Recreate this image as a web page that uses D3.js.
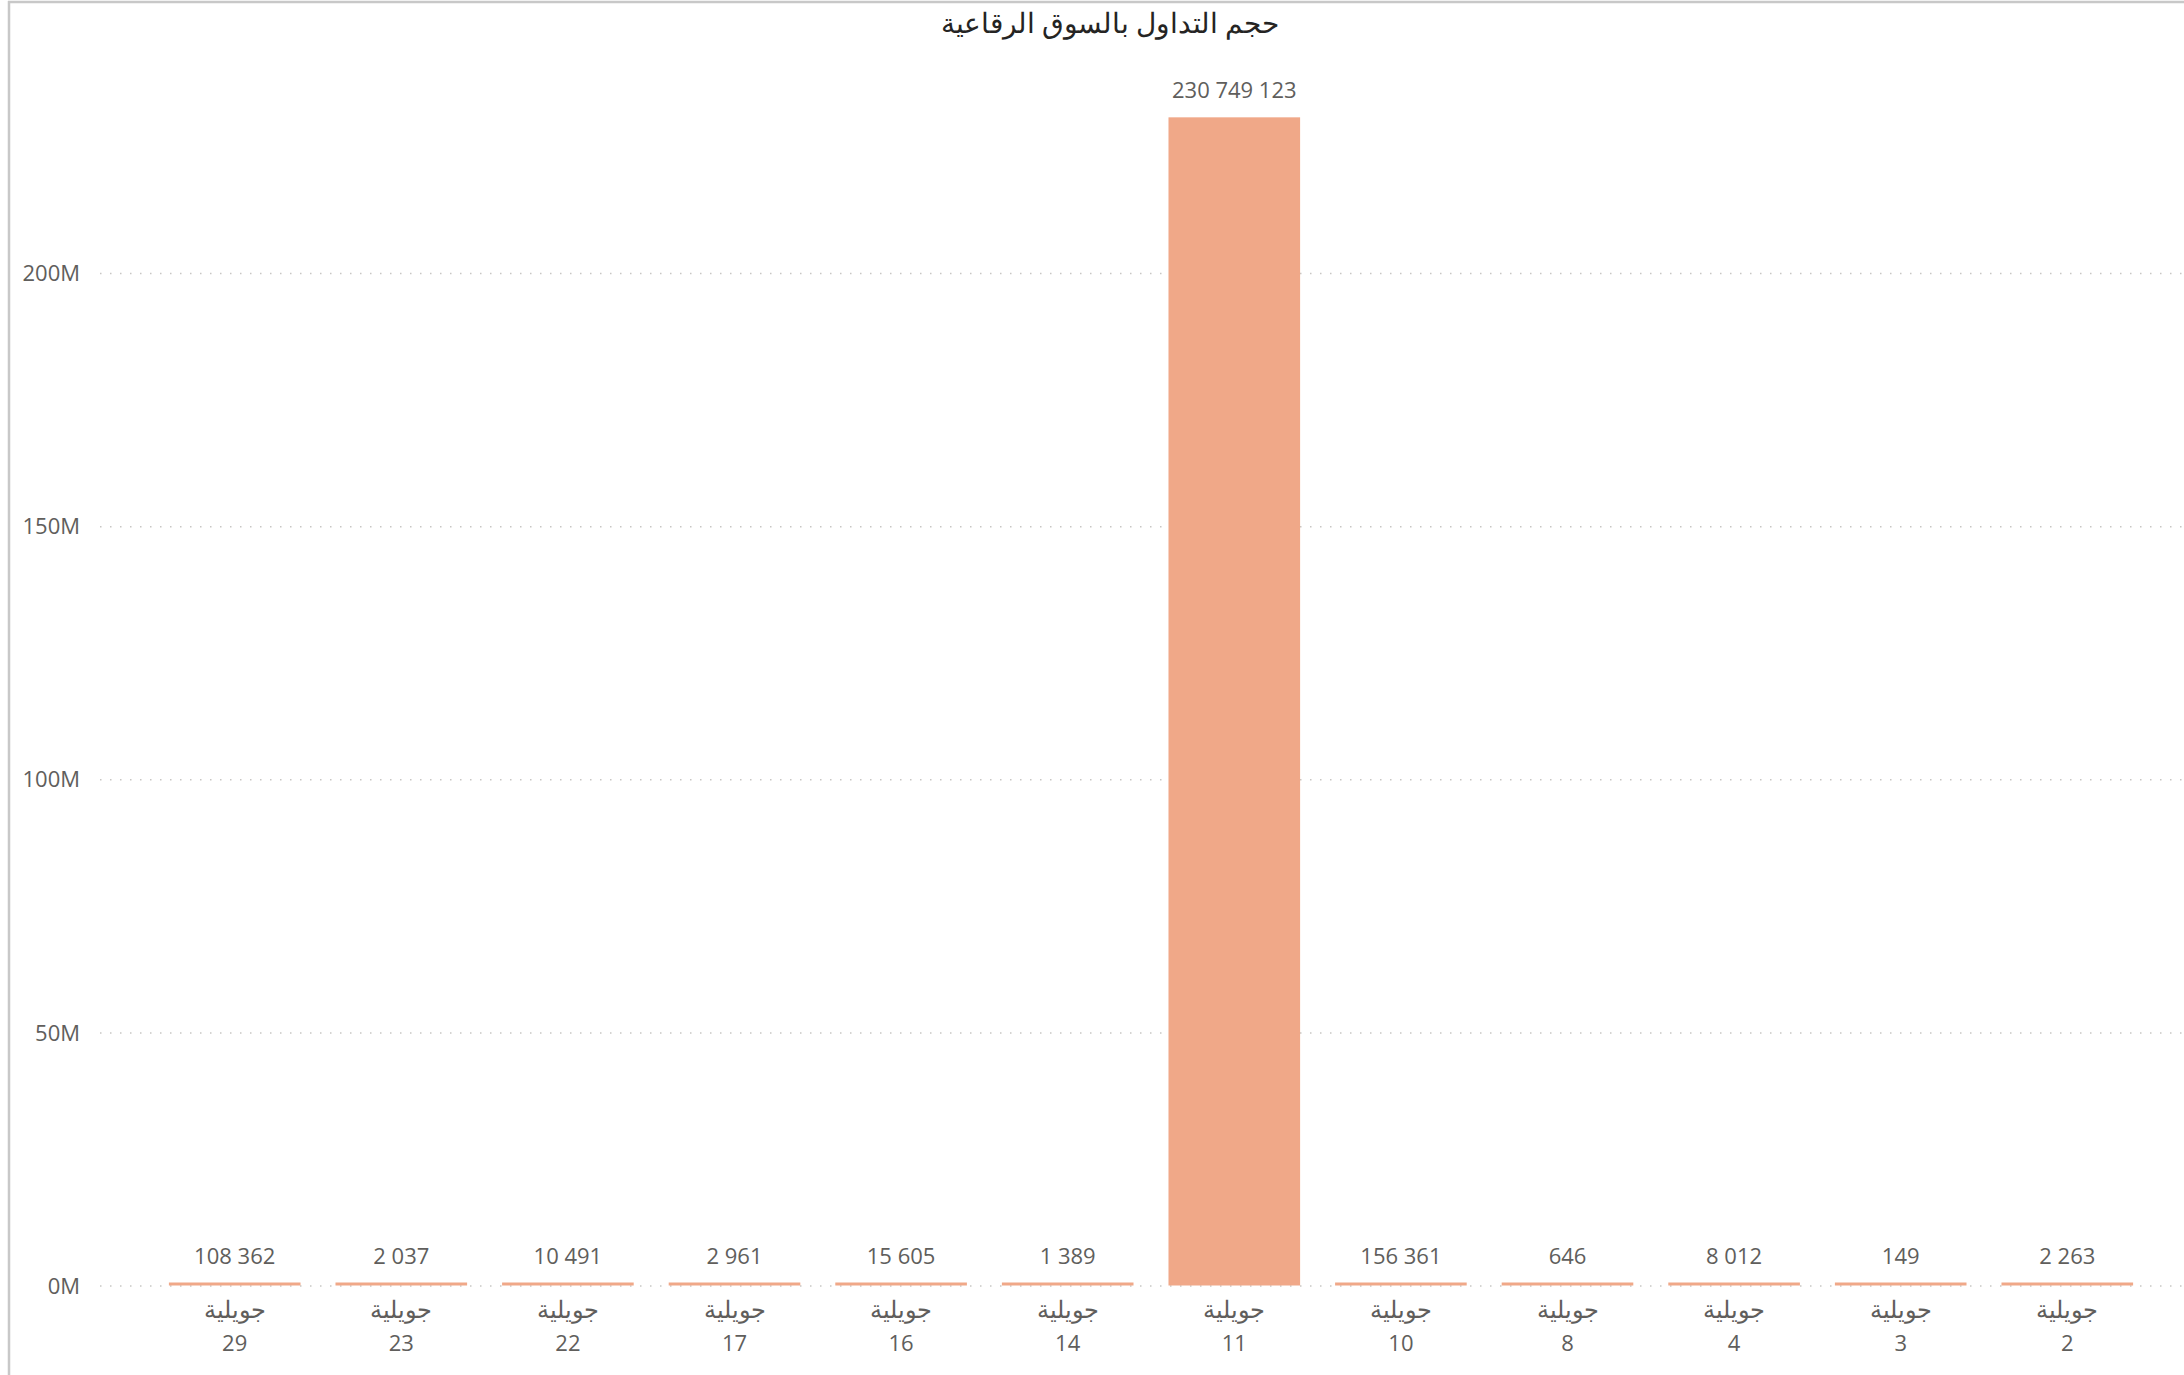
<!DOCTYPE html>
<html>
<head>
<meta charset="utf-8">
<script src="https://cdn.jsdelivr.net/npm/d3@7"></script>
<style>
  body { margin: 0; background: #fff; }
  svg text { font-family: "Open Sans", "Noto Sans", sans-serif; }
</style>
</head>
<body>
<svg id="chart"></svg>
<script>
const width = 2184;
const height = 1375;

// data
const days = ["29", "23", "22", "17", "16", "14", "11", "10", "8", "4", "3", "2"];
const monthName = "جويلية";
const volumes = [108362, 2037, 10491, 2961, 15605, 1389, 230749123, 156361, 646, 8012, 149, 2263];
const yTicks = [0, 50e6, 100e6, 150e6, 200e6];
const title = "حجم التداول بالسوق الرقاعية";

let svg = d3.select('#chart')
        .attr('width', width)
        .attr('height', height);

// frame (left + top border)
svg.append("line").attr("x1", 9).attr("x2", 9).attr("y1", 1).attr("y2", height)
        .style("stroke", "#c8c8c8").style("stroke-width", 2.5);
svg.append("line").attr("x1", 8).attr("x2", width).attr("y1", 2).attr("y2", 2)
        .style("stroke", "#c8c8c8").style("stroke-width", 2.5);

// title
svg.append("text")
        .attr("x", 1110).attr("y", 33)
        .attr("text-anchor", "middle")
        .style("font-size", "28px")
        .style("fill", "#252423")
        .text(title);

let x = d3.scaleBand()
        .domain(days)
        .range([151.4, 2150.6])
        .paddingInner(0.21)
        .paddingOuter(0.105);

let y = d3.scaleLinear()
        .domain([0, 200e6])
        .range([1285.5, 273]);

// gridlines
let yAxis = d3.axisLeft(y)
        .tickValues(yTicks)
        .tickSize(-(width - 100))
        .tickFormat(d => (d / 1e6) + "M");

let gy = svg.append("g")
        .attr("transform", "translate(100,0)")
        .call(yAxis);
gy.select(".domain").remove();
gy.selectAll(".tick line")
        .style("stroke", "#c8c6c4")
        .style("stroke-width", 1.5)
        .style("stroke-dasharray", "1.5,8.5");
gy.selectAll(".tick text")
        .attr("x", -20)
        .attr("dy", "0.35em")
        .style("font-size", "22px")
        .style("fill", "#605e5c");

// bars (Power BI keeps tiny bars visible)
let fmt = v => d3.format(",")(v).replace(/,/g, " ");

svg.selectAll(".bar")
        .data(volumes)
        .enter()
        .append("rect")
        .attr("class", "bar")
        .attr("x", (d, i) => x(days[i]))
        .attr("width", x.bandwidth())
        .attr("y", d => Math.min(y(d), y(0) - 3))
        .attr("height", d => Math.max(y(0) - y(d), 3))
        .style("fill", "#f0a888");

svg.selectAll(".val")
        .data(volumes)
        .enter()
        .append("text")
        .attr("class", "val")
        .attr("x", (d, i) => x(days[i]) + x.bandwidth() / 2)
        .attr("y", d => Math.min(y(d), y(0) - 3) - 19)
        .attr("text-anchor", "middle")
        .style("font-size", "22px")
        .style("fill", "#605e5c")
        .text(d => fmt(d));

// category labels
let cat = svg.selectAll(".cat")
        .data(days)
        .enter()
        .append("text")
        .attr("class", "cat")
        .attr("text-anchor", "middle")
        .style("font-size", "22px")
        .style("fill", "#605e5c");

cat.append("tspan")
        .attr("x", d => x(d) + x.bandwidth() / 2)
        .attr("y", 1318)
        .style("font-size", "24px")
        .text(monthName);
cat.append("tspan")
        .attr("x", d => x(d) + x.bandwidth() / 2)
        .attr("y", 1351)
        .text(d => d);
</script>
</body>
</html>
